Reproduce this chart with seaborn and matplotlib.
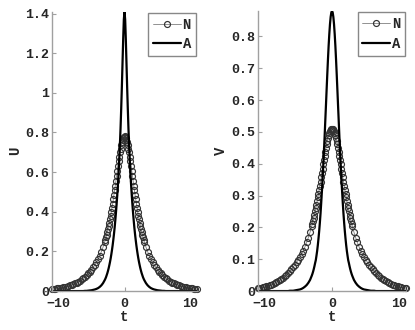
import numpy as np
import matplotlib
matplotlib.use("Agg")
import matplotlib.pyplot as plt
import seaborn as sns

sns.set_style("ticks")
plt.rcParams["font.family"] = ["Liberation Mono", "DejaVu Sans Mono"]
plt.rcParams["font.weight"] = "bold"

t = [-11.0, -10.75, -10.5, -10.25, -10.0, -9.75, -9.5, -9.25, -9.0, -8.75, -8.5, -8.25,
     -8.0, -7.75, -7.5, -7.25, -7.0, -6.75, -6.5, -6.25, -6.0, -5.75, -5.5, -5.25,
     -5.0, -4.75, -4.5, -4.25, -4.0, -3.75, -3.5, -3.25,
     -3.0, -2.9, -2.8, -2.7, -2.6, -2.5, -2.4, -2.3, -2.2, -2.1, -2.0, -1.9, -1.8, -1.7, -1.6,
     -1.5, -1.4, -1.3, -1.2, -1.1, -1.0, -0.9, -0.8, -0.7, -0.6, -0.5, -0.4, -0.3, -0.2, -0.1,
     0.0,
     0.1, 0.2, 0.3, 0.4, 0.5, 0.6, 0.7, 0.8, 0.9, 1.0, 1.1, 1.2, 1.3, 1.4, 1.5,
     1.6, 1.7, 1.8, 1.9, 2.0, 2.1, 2.2, 2.3, 2.4, 2.5, 2.6, 2.7, 2.8, 2.9, 3.0,
     3.25, 3.5, 3.75, 4.0, 4.25, 4.5, 4.75, 5.0, 5.25, 5.5, 5.75, 6.0, 6.25, 6.5, 6.75,
     7.0, 7.25, 7.5, 7.75, 8.0, 8.25, 8.5, 8.75, 9.0, 9.25, 9.5, 9.75, 10.0, 10.25, 10.5,
     10.75, 11.0]

u_num = [0.009, 0.010, 0.011, 0.013, 0.014, 0.015, 0.017, 0.019, 0.021, 0.023, 0.026, 0.029,
         0.032, 0.035, 0.039, 0.043, 0.048, 0.053, 0.059, 0.065, 0.072, 0.080, 0.089, 0.098,
         0.108, 0.119, 0.131, 0.145, 0.160, 0.179, 0.199, 0.222,
         0.248, 0.260, 0.272, 0.285, 0.299, 0.314, 0.329, 0.345, 0.363, 0.381, 0.400, 0.420,
         0.440, 0.462, 0.485, 0.508, 0.532, 0.556, 0.581, 0.606, 0.630, 0.654, 0.677, 0.699,
         0.718, 0.736, 0.751, 0.764, 0.773, 0.778,
         0.780,
         0.778, 0.773, 0.764, 0.751, 0.736, 0.718, 0.699, 0.677, 0.654, 0.630, 0.606, 0.581,
         0.556, 0.532, 0.508, 0.485, 0.462, 0.440, 0.420, 0.400, 0.381, 0.363, 0.345, 0.329,
         0.314, 0.299, 0.285, 0.272, 0.260, 0.248,
         0.222, 0.199, 0.179, 0.160, 0.145, 0.131, 0.119, 0.108, 0.098, 0.089, 0.080, 0.072,
         0.065, 0.059, 0.053, 0.048, 0.043, 0.039, 0.035, 0.032, 0.029, 0.026, 0.023, 0.021,
         0.019, 0.017, 0.015, 0.014, 0.013, 0.011, 0.010, 0.009]

u_ana = [0.0, 0.0, 0.0, 0.0, 0.0, 0.0, 0.0, 0.0, 0.0, 0.0, 0.0, 0.0,
         0.0, 0.0, 0.0, 0.0, 0.0, 0.0, 0.0, 0.0, 0.001, 0.001, 0.002, 0.003,
         0.004, 0.006, 0.008, 0.011, 0.015, 0.021, 0.029, 0.040,
         0.055, 0.062, 0.070, 0.080, 0.090, 0.102, 0.115, 0.130, 0.146, 0.164, 0.184, 0.206,
         0.230, 0.257, 0.286, 0.318, 0.354, 0.393, 0.436, 0.483, 0.535, 0.595, 0.660, 0.735,
         0.820, 0.920, 1.030, 1.150, 1.270, 1.370,
         1.410,
         1.370, 1.270, 1.150, 1.030, 0.920, 0.820, 0.735, 0.660, 0.595, 0.535, 0.483, 0.436,
         0.393, 0.354, 0.318, 0.286, 0.257, 0.230, 0.206, 0.184, 0.164, 0.146, 0.130, 0.115,
         0.102, 0.090, 0.080, 0.070, 0.062, 0.055,
         0.040, 0.029, 0.021, 0.015, 0.011, 0.008, 0.006, 0.004, 0.003, 0.002, 0.001, 0.001,
         0.0, 0.0, 0.0, 0.0, 0.0, 0.0, 0.0, 0.0, 0.0, 0.0, 0.0, 0.0,
         0.0, 0.0, 0.0, 0.0, 0.0, 0.0, 0.0, 0.0]

v_num = [0.009, 0.010, 0.011, 0.012, 0.013, 0.015, 0.016, 0.018, 0.020, 0.023, 0.025, 0.028,
         0.031, 0.034, 0.038, 0.042, 0.046, 0.051, 0.056, 0.062, 0.068, 0.075, 0.082, 0.090,
         0.099, 0.107, 0.117, 0.127, 0.139, 0.153, 0.168, 0.185,
         0.204, 0.212, 0.221, 0.230, 0.240, 0.250, 0.260, 0.271, 0.282, 0.294, 0.306, 0.318,
         0.331, 0.344, 0.357, 0.371, 0.384, 0.398, 0.411, 0.424, 0.437, 0.449, 0.461, 0.472,
         0.481, 0.490, 0.497, 0.502, 0.507, 0.509,
         0.510,
         0.509, 0.507, 0.502, 0.497, 0.490, 0.481, 0.472, 0.461, 0.449, 0.437, 0.424, 0.411,
         0.398, 0.384, 0.371, 0.357, 0.344, 0.331, 0.318, 0.306, 0.294, 0.282, 0.271, 0.260,
         0.250, 0.240, 0.230, 0.221, 0.212, 0.204,
         0.185, 0.168, 0.153, 0.139, 0.127, 0.117, 0.107, 0.099, 0.090, 0.082, 0.075, 0.068,
         0.062, 0.056, 0.051, 0.046, 0.042, 0.038, 0.034, 0.031, 0.028, 0.025, 0.023, 0.020,
         0.018, 0.016, 0.015, 0.013, 0.012, 0.011, 0.010, 0.009]

v_ana = [0.0, 0.0, 0.0, 0.0, 0.0, 0.0, 0.0, 0.0, 0.0, 0.0, 0.0, 0.0,
         0.0, 0.0, 0.0, 0.0, 0.0, 0.0, 0.0, 0.001, 0.001, 0.001, 0.002, 0.003,
         0.004, 0.005, 0.007, 0.010, 0.014, 0.019, 0.026, 0.035,
         0.048, 0.054, 0.061, 0.069, 0.078, 0.088, 0.097, 0.111, 0.126, 0.144, 0.165, 0.188,
         0.214, 0.243, 0.276, 0.312, 0.351, 0.391, 0.436, 0.482, 0.532, 0.581, 0.631, 0.680,
         0.727, 0.770, 0.807, 0.838, 0.861, 0.875,
         0.880,
         0.875, 0.861, 0.838, 0.807, 0.770, 0.727, 0.680, 0.631, 0.581, 0.532, 0.482, 0.436,
         0.391, 0.351, 0.312, 0.276, 0.243, 0.214, 0.188, 0.165, 0.144, 0.126, 0.111, 0.097,
         0.088, 0.078, 0.069, 0.061, 0.054, 0.048,
         0.035, 0.026, 0.019, 0.014, 0.010, 0.007, 0.005, 0.004, 0.003, 0.002, 0.001, 0.001,
         0.001, 0.0, 0.0, 0.0, 0.0, 0.0, 0.0, 0.0, 0.0, 0.0, 0.0, 0.0,
         0.0, 0.0, 0.0, 0.0, 0.0, 0.0, 0.0, 0.0]

u_ticks = [0, 0.2, 0.4, 0.6, 0.8, 1.0, 1.2, 1.4]
u_tick_labels = ["0", "0.2", "0.4", "0.6", "0.8", "1", "1.2", "1.4"]
v_ticks = [0, 0.1, 0.2, 0.3, 0.4, 0.5, 0.6, 0.7, 0.8]
v_tick_labels = ["0", "0.1", "0.2", "0.3", "0.4", "0.5", "0.6", "0.7", "0.8"]
t_ticks = [-10, 0, 10]
t_tick_labels = ["\u221210", "0", "10"]

fig = plt.figure(figsize=(4.15, 3.3), dpi=100)
ax_u = fig.add_axes([0.125, 0.118, 0.35, 0.847])
ax_v = fig.add_axes([0.621, 0.118, 0.358, 0.849])

spine_grey = "#a0a0a0"


def draw_panel(ax, num, ana, ticks, tick_labels, ylabel):
    sns.lineplot(x=t, y=num, ax=ax, color="#808080", lw=0.6, marker="o", markersize=4.3,
                 markerfacecolor="none", markeredgecolor="#333333", markeredgewidth=0.85,
                 label="N", sort=False, estimator=None, clip_on=False)
    sns.lineplot(x=t, y=ana, ax=ax, color="black", lw=1.6, label="A",
                 sort=False, estimator=None)
    ax.set_xlim(-11, 11)
    ax.set_ylim(0, max(ana))
    ax.set_xticks(t_ticks)
    ax.set_xticklabels(t_tick_labels)
    ax.set_yticks(ticks)
    ax.set_yticklabels(tick_labels)
    ax.set_xlabel("t", fontsize=10, fontweight="bold", labelpad=0)
    ax.set_ylabel(ylabel, fontsize=10, fontweight="bold", labelpad=2)
    for side in ["top", "right"]:
        ax.spines[side].set_visible(False)
    for side in ["left", "bottom"]:
        ax.spines[side].set_color(spine_grey)
        ax.spines[side].set_linewidth(1.0)
    ax.tick_params(direction="in", length=3, width=0.8, color=spine_grey,
                   labelsize=9.5)
    ax.tick_params(axis="y", pad=2)
    ax.tick_params(axis="x", pad=5)
    for lab in ax.get_xticklabels() + ax.get_yticklabels():
        lab.set_fontweight("bold")
    leg = ax.legend(loc="upper right", frameon=True, fancybox=False, framealpha=1,
                    edgecolor="#888888", borderaxespad=0.1, handlelength=2.0,
                    handletextpad=0.1, borderpad=0.35, labelspacing=0.4,
                    prop={"family": "Liberation Mono", "weight": "bold", "size": 10})
    leg.get_frame().set_linewidth(1.0)


draw_panel(ax_u, u_num, u_ana, u_ticks, u_tick_labels, "U")
draw_panel(ax_v, v_num, v_ana, v_ticks, v_tick_labels, "V")

fig.savefig("out.png", dpi=100)
